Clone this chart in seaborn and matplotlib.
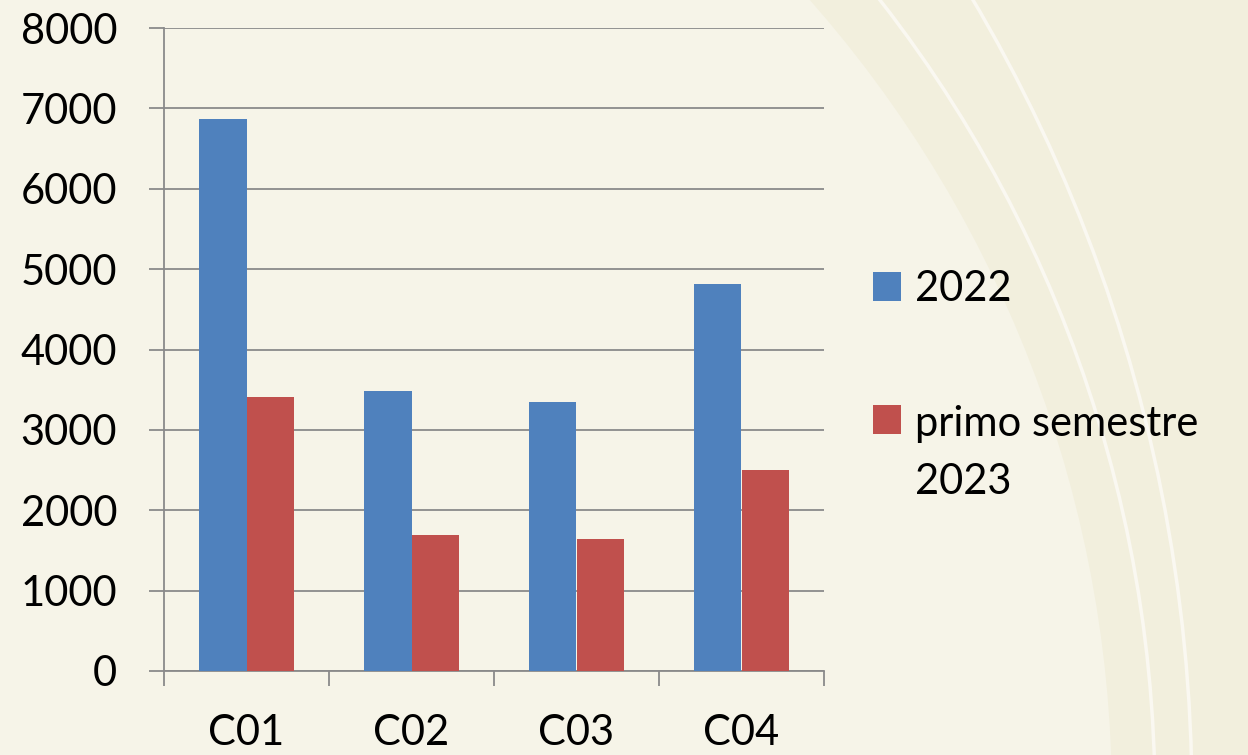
import numpy as np
import pandas as pd
import matplotlib
matplotlib.use("Agg")
import matplotlib.pyplot as plt
import seaborn as sns
from matplotlib.patches import Circle
from matplotlib.legend_handler import HandlerPatch

categories = ["C01", "C02", "C03", "C04"]
series_names = ["2022", "primo semestre\n2023"]
values_2022 = [6870, 3480, 3350, 4815]
values_2023 = [3410, 1690, 1640, 2500]
y_ticks = [0, 1000, 2000, 3000, 4000, 5000, 6000, 7000, 8000]

df = pd.DataFrame({
    "categoria": categories * 2,
    "serie": [series_names[0]] * 4 + [series_names[1]] * 4,
    "valore": values_2022 + values_2023,
})

sns.set_theme(style="white")
plt.rcParams["font.family"] = ["Lato", "DejaVu Sans"]
plt.rcParams["text.color"] = "black"

BG_OUT = "#F2EFDD"
BG_IN = "#F6F4E8"
GRID = "#8A8A8A"
FS = 30

fig = plt.figure(figsize=(12.48, 7.55), dpi=100, facecolor=BG_OUT)

# decorative background
bg = fig.add_axes([0, 0, 1, 1], zorder=-10)
bg.set_xlim(0, 1248)
bg.set_ylim(755, 0)
bg.axis("off")
bg.add_patch(Circle((-98, 800), 1210, facecolor=BG_IN, edgecolor="none"))
bg.add_patch(Circle((-146, 800), 1301, facecolor="none", edgecolor="#FAF8F1", lw=2.5))
bg.add_patch(Circle((-379, 800), 1571, facecolor="none", edgecolor="#FAF8F1", lw=2.5))

ax = fig.add_axes([164 / 1248, 1 - 671 / 755, 660 / 1248, 643 / 755])
ax.patch.set_alpha(0)

sns.barplot(data=df, x="categoria", y="valore", hue="serie",
            palette=["#4F81BD", "#C0504D"], saturation=1, width=0.57,
            linewidth=0, ax=ax, zorder=3)

ax.set_xlim(-0.5, 3.5)
ax.set_ylim(0, 8000)
ax.set_yticks(y_ticks)
ax.set_yticklabels([str(v) for v in y_ticks])
ax.set_xlabel("")
ax.set_ylabel("")

ax.yaxis.grid(True, color=GRID, lw=1.3, zorder=0)
ax.set_axisbelow(True)
for s in ["top", "right"]:
    ax.spines[s].set_visible(False)
for s in ["left", "bottom"]:
    ax.spines[s].set_color(GRID)
    ax.spines[s].set_linewidth(1.3)

ax.tick_params(axis="y", which="major", direction="out", length=10.8, width=1.3,
               color=GRID, pad=23, labelsize=FS, left=True)
ax.set_xticks(np.arange(-0.5, 4, 1), minor=True)
ax.tick_params(axis="x", which="major", length=0, pad=31, labelsize=FS)
ax.tick_params(axis="x", which="minor", direction="out", length=10.8, width=1.3,
               color=GRID, bottom=True)
for lbl in ax.get_xticklabels() + ax.get_yticklabels():
    lbl.set_color("black")


class TopAlignedHandler(HandlerPatch):
    def __init__(self, shift, **kw):
        super().__init__(**kw)
        self.shift = shift

    def create_artists(self, legend, orig_handle, xdescent, ydescent, width,
                       height, fontsize, trans):
        return super().create_artists(legend, orig_handle, xdescent,
                                      ydescent - self.shift * fontsize,
                                      width, height, fontsize, trans)


handles, labels = ax.get_legend_handles_labels()
if ax.legend_:
    ax.legend_.remove()
LS = 1.66
leg = fig.legend(handles, labels, loc="upper left",
                 bbox_to_anchor=(873 / 1248, 1 - 270 / 755),
                 frameon=False, fontsize=FS, borderpad=0, borderaxespad=0,
                 handlelength=0.68, handleheight=0.68, handletextpad=0.33,
                 labelspacing=2.32,
                 handler_map={handles[1]: TopAlignedHandler(shift=0.5 * LS * 1.0)})
for t in leg.get_texts():
    t.set_linespacing(LS)
    t.set_color("black")

fig.savefig("out.png", dpi=100, facecolor=BG_OUT)
